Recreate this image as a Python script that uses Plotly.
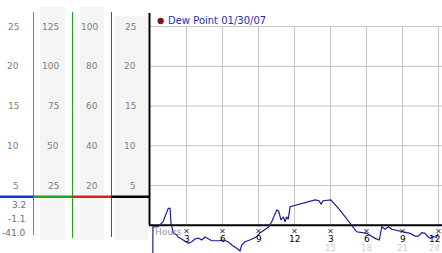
import plotly.graph_objects as go

# ---- data ----
hours = [0.15, 0.2, 0.63, 0.79, 1.04, 1.48, 1.63, 1.71, 1.9, 2.18, 2.29, 2.46, 2.71, 3.02, 3.15,
         3.43, 3.71, 3.98, 4.27, 4.54, 5.1, 5.65, 6.07, 6.46, 6.77, 7.18, 7.46, 7.6, 7.88, 8.43,
         8.85, 9.13, 9.54, 9.82, 10.1, 10.52, 10.67, 10.88, 11.07, 11.21, 11.35, 11.48, 11.63,
         12.18, 13.02, 13.71, 14.04, 14.21, 14.38, 15.02, 15.79, 16.63, 17.18, 18.02, 18.71,
         19.07, 19.18, 19.27, 19.54, 19.82, 20.1, 20.38, 20.79, 21.07, 21.63, 22.04, 22.32,
         22.6, 22.88, 23.07, 23.29, 23.57, 23.85, 23.95]
dew_point = [-41.0, -0.2, -0.18, 0.04, 0.45, 2.14, 2.14, 0.29, -0.97, -1.18, -1.47, -1.6, -1.85,
             -2.06, -2.26, -2.06, -1.72, -1.6, -1.85, -1.47, -1.94, -1.94, -1.85, -2.06, -2.48,
             -2.89, -3.23, -2.48, -2.06, -1.76, -1.43, -0.93, -0.59, -0.25, 0.45, 1.92, 1.8,
             0.67, 1.08, 0.45, 1.08, 0.79, 2.34, 2.55, 2.84, 3.2, 3.09, 2.68, 3.09, 3.2, 1.92,
             0.25, -0.81, -1.01, -1.64, -1.85, -0.59, -0.18, -0.5, -0.18, -0.5, -0.59, -0.68,
             -0.81, -1.01, -1.35, -1.35, -0.93, -1.01, -1.35, -1.64, -1.43, -1.51, -1.1]

grid_values = [25, 20, 15, 10, 5]
col1_labels = [25, 20, 15, 10, 5]
col2_labels = [125, 100, 75, 50, 25]
col3_labels = [100, 80, 60, 40, 20]
col4_labels = [25, 20, 15, 10, 5]
stat_labels = ["3.2", "-1.1", "-41.0"]
hour_ticks = [3, 6, 9, 12, 15, 18, 21, 24]
hour_labels = ["3", "6", "9", "12", "3", "6", "9", "12"]
alt_ticks = [15, 18, 21, 24]
alt_labels = ["15", "18", "21", "24"]
legend_text = "Dew Point 01/30/07"
marker_level = 3.6

W, H = 442, 253
FONT = "DejaVu Sans"
X0, X1 = -0.125, 24.29
Y0, Y1 = -3.48, 28.34


def px(x):
    return x / W


def py(y):
    return 1 - y / H


fig = go.Figure()

fig.add_trace(go.Scatter(x=hours, y=dew_point, mode="lines",
                         line=dict(color="#1c1c96", width=1.2), showlegend=False,
                         hoverinfo="skip"))

# small tick glyphs
fig.add_trace(go.Scatter(x=hour_ticks, y=[-0.72] * len(hour_ticks), mode="markers",
                         marker=dict(symbol="x-thin", size=4, line=dict(color="#222", width=1)),
                         showlegend=False, hoverinfo="skip", cliponaxis=False))
fig.add_trace(go.Scatter(x=[-0.27] * len(grid_values), y=grid_values, mode="markers",
                         marker=dict(symbol="x-thin", size=4, line=dict(color="#222", width=1)),
                         showlegend=False, hoverinfo="skip", cliponaxis=False))

shapes = []
# shaded columns
for x0, x1, y0 in [(40, 65, 7), (80, 104, 7), (115, 148, 16)]:
    shapes.append(dict(type="rect", xref="paper", yref="paper", x0=px(x0), x1=px(x1),
                       y0=py(240), y1=py(y0), fillcolor="#f4f4f4", line=dict(width=0),
                       layer="below"))
# grid
for v in grid_values:
    shapes.append(dict(type="line", xref="x", yref="y", x0=X0, x1=X1, y0=v, y1=v,
                       line=dict(color="#c4c4c4", width=1), layer="below"))
for h in hour_ticks:
    shapes.append(dict(type="line", xref="x", yref="y", x0=h, x1=h, y0=0, y1=25,
                       line=dict(color="#c4c4c4", width=1), layer="below"))
# axes
shapes.append(dict(type="line", xref="x", yref="y", x0=X0, x1=X1, y0=0, y1=0,
                   line=dict(color="black", width=2), layer="below"))
shapes.append(dict(type="line", xref="paper", yref="paper", x0=px(149.5), x1=px(149.5),
                   y0=py(225), y1=py(13), line=dict(color="black", width=2)))
# coloured column lines
for x, yb, c in [(33.5, 235, "#2aa0cc"), (72.5, 238, "#22a022"), (111.5, 237, "#c82020")]:
    shapes.append(dict(type="line", xref="paper", yref="paper", x0=px(x), x1=px(x),
                       y0=py(yb), y1=py(12), line=dict(color=c, width=1)))
for x0, x1, c in [(0, 33.5, "#1030d8"), (33.5, 72.5, "#22a022"), (72.5, 111.5, "#d82020"),
                  (111.5, 149.5, "black")]:
    shapes.append(dict(type="line", xref="paper", yref="y", x0=px(x0), x1=px(x1),
                       y0=marker_level, y1=marker_level, line=dict(color=c, width=2.5)))
# legend dot
shapes.append(dict(type="circle", xref="paper", yref="paper", x0=px(157.8), x1=px(163.6),
                   y0=py(23.9), y1=py(18.1), fillcolor="#8a1010", line=dict(color="#500", width=0.5)))

ann = []
for labels, xr in [(col1_labels, 20.5), (col2_labels, 60.5), (col3_labels, 99.5), (col4_labels, 137.5)]:
    for v, t in zip(grid_values, labels):
        ann.append(dict(xref="paper", yref="y", x=px(xr), y=v, text=str(t), showarrow=False,
                        xanchor="right", yanchor="middle",
                        font=dict(family=FONT, size=9, color="#808080")))
for t, y in zip(stat_labels, [205, 219, 232.7]):
    ann.append(dict(xref="paper", yref="paper", x=px(27.5), y=py(y), text=t, showarrow=False,
                    xanchor="right", yanchor="middle",
                    font=dict(family=FONT, size=9, color="#707070")))


def hour_label(h, t, ypix, size, color):
    if h >= 24:
        return dict(xref="paper", yref="paper", x=px(441.5), y=py(ypix), text=t, showarrow=False,
                    xanchor="right", yanchor="middle",
                    font=dict(family=FONT, size=size, color=color))
    return dict(xref="x", yref="paper", x=h, y=py(ypix), text=t, showarrow=False,
                xanchor="center", yanchor="middle",
                font=dict(family=FONT, size=size, color=color))


for h, t in zip(hour_ticks, hour_labels):
    ann.append(hour_label(h, t, 238.5, 9, "black"))
for h, t in zip(alt_ticks, alt_labels):
    ann.append(hour_label(h, t, 247.5, 8.5, "#d0d0d0"))
ann.append(dict(xref="paper", yref="paper", x=px(152.5), y=py(232), text="Hours",
                showarrow=False, xanchor="left", yanchor="middle",
                font=dict(family=FONT, size=9, color="#999999")))
ann.append(dict(xref="paper", yref="paper", x=px(165.5), y=py(21), text=legend_text,
                showarrow=False, xanchor="left", yanchor="middle",
                font=dict(family=FONT, size=10, color="#1e2eb0")))

fig.update_layout(
    width=W, height=H, margin=dict(l=0, r=0, t=0, b=0),
    paper_bgcolor="white", plot_bgcolor="white",
    xaxis=dict(domain=[px(149), 1], range=[X0, X1], visible=False),
    yaxis=dict(domain=[0, 1], range=[Y0, Y1], visible=False),
    shapes=shapes, annotations=ann, showlegend=False,
)

fig.write_html("out.html")
